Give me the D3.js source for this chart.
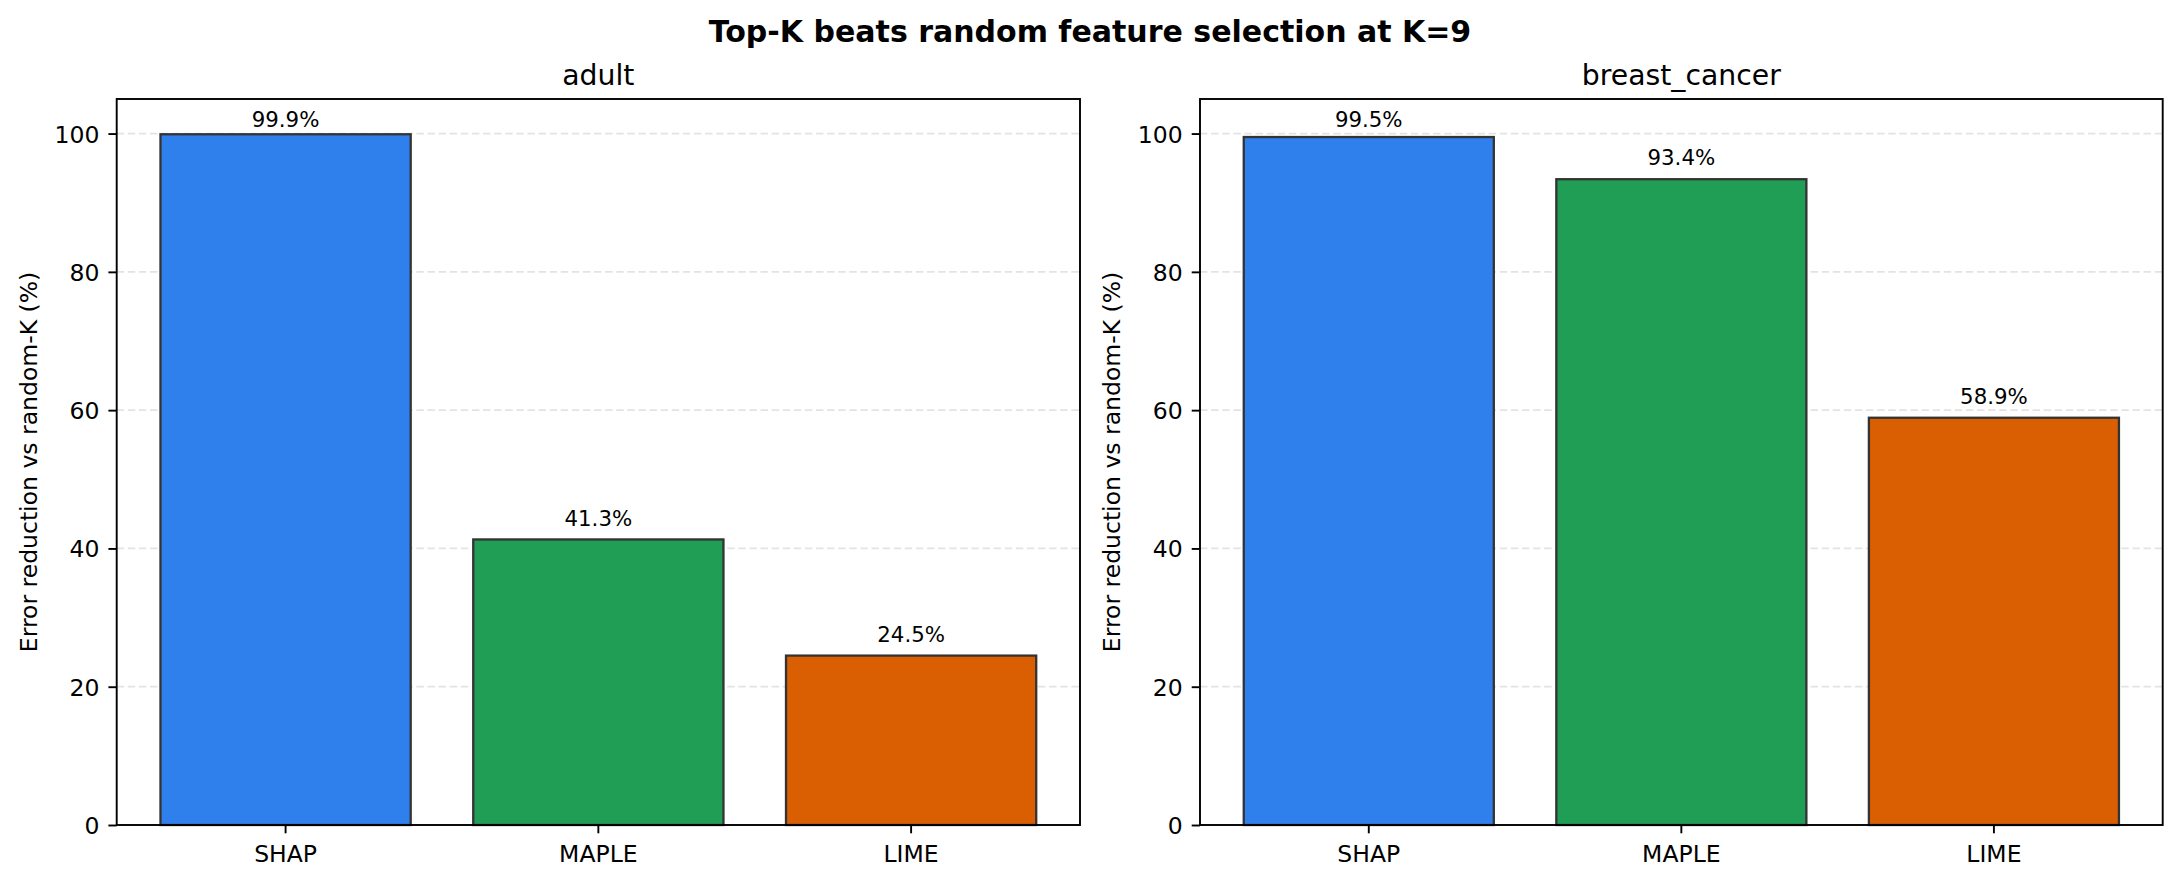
<!DOCTYPE html>
<html>
<head>
<meta charset="utf-8">
<script src="https://cdn.jsdelivr.net/npm/d3@7"></script>
<style>
  body { margin: 0; background: #fff; }
  text { font-family: 'DejaVu Sans', sans-serif; fill: #000; }
</style>
</head>
<body>
<div id="container"></div>
<script>
// chart data
const methods = ['SHAP', 'MAPLE', 'LIME'];
const datasetNames = ['adult', 'breast_cancer'];
const adultValues = [99.9, 41.3, 24.5];
const breastCancerValues = [99.5, 93.4, 58.9];
const yTicks = [0, 20, 40, 60, 80, 100];
const titleText = 'Top-K beats random feature selection at K=9';
const yLabelText = 'Error reduction vs random-K (%)';

const barColors = ['#2f80ed', '#219e56', '#d95f02'];

let svg = d3.select('#container')
    .append('svg')
    .attr('width', 2180)
    .attr('height', 884)
    ;

svg.append('text')
    .attr('x', 1090)
    .attr('y', 41.5)
    .attr('text-anchor', 'middle')
    .style('font-size', '30px')
    .style('font-weight', 'bold')
    .text(titleText);

// axes boxes (left, top, width, height)
let panels = [
    { name: datasetNames[0], values: adultValues, left: 116.7, top: 99, width: 963.3, height: 726 },
    { name: datasetNames[1], values: breastCancerValues, left: 1200, top: 99, width: 962.7, height: 726 }
];

panels.forEach(drawPanel);

function drawPanel(p) {
    let g = svg.append('g')
        .attr('transform', 'translate(' + p.left + ',' + p.top + ')');

    let x = d3.scaleBand()
        .domain(methods)
        .range([0, p.width])
        .paddingInner(0.2)
        .paddingOuter(0.14);

    let y = d3.scaleLinear()
        .domain([0, 105])
        .range([p.height, 0]);

    // grid
    g.selectAll('.grid').data(yTicks).enter()
        .append('line')
        .attr('class', 'grid')
        .attr('x1', 0)
        .attr('x2', p.width)
        .attr('y1', d => y(d))
        .attr('y2', d => y(d))
        .attr('stroke', '#e3e3e3')
        .attr('stroke-width', 1.8)
        .attr('stroke-dasharray', '7.5,3.6');

    // bars
    let rows = methods.map((m, i) => ({ method: m, value: p.values[i], color: barColors[i] }));

    g.selectAll('.bar').data(rows).enter()
        .append('rect')
        .attr('class', 'bar')
        .attr('x', d => x(d.method))
        .attr('y', d => y(d.value))
        .attr('width', x.bandwidth())
        .attr('height', d => y(0) - y(d.value))
        .attr('fill', d => d.color)
        .attr('stroke', '#333333')
        .attr('stroke-width', 2.3);

    // labels sit 2 units above the bar, but no higher than ~101
    g.selectAll('.barlabel').data(rows).enter()
        .append('text')
        .attr('class', 'barlabel')
        .attr('x', d => x(d.method) + x.bandwidth() / 2)
        .attr('y', d => y(Math.min(d.value + 2, 100.9)))
        .attr('text-anchor', 'middle')
        .style('font-size', '21.3px')
        .text(d => d.value.toFixed(1) + '%');

    // frame
    g.append('rect')
        .attr('x', 0)
        .attr('y', 0)
        .attr('width', p.width)
        .attr('height', p.height)
        .attr('fill', 'none')
        .attr('stroke', '#000')
        .attr('stroke-width', 1.9);

    // y axis
    let yAxis = g.append('g')
        .call(d3.axisLeft(y).tickValues(yTicks).tickSize(8.3).tickPadding(9).tickFormat(d3.format('d')));
    yAxis.select('.domain').remove();
    yAxis.selectAll('.tick line').attr('stroke', '#000').attr('stroke-width', 1.9);
    yAxis.selectAll('.tick text')
        .attr('dy', '0.36em')
        .style('font-family', "'DejaVu Sans', sans-serif")
        .style('font-size', '23.5px')
        .attr('fill', '#000');

    // x axis
    let xAxis = g.append('g')
        .attr('transform', 'translate(0,' + p.height + ')')
        .call(d3.axisBottom(x).tickSize(8.3).tickPadding(9));
    xAxis.select('.domain').remove();
    xAxis.selectAll('.tick line').attr('stroke', '#000').attr('stroke-width', 1.9);
    xAxis.selectAll('.tick text')
        .attr('y', 36.5)
        .attr('dy', 0)
        .style('font-family', "'DejaVu Sans', sans-serif")
        .style('font-size', '23.5px')
        .attr('fill', '#000');

    // subplot title
    g.append('text')
        .attr('x', p.width / 2)
        .attr('y', -14.5)
        .attr('text-anchor', 'middle')
        .style('font-size', '28.3px')
        .text(p.name);

    // y label
    g.append('text')
        .attr('transform', 'translate(' + (-80) + ',' + (p.height / 2) + ') rotate(-90)')
        .attr('text-anchor', 'middle')
        .style('font-size', '23.5px')
        .text(yLabelText);
}
</script>
</body>
</html>
